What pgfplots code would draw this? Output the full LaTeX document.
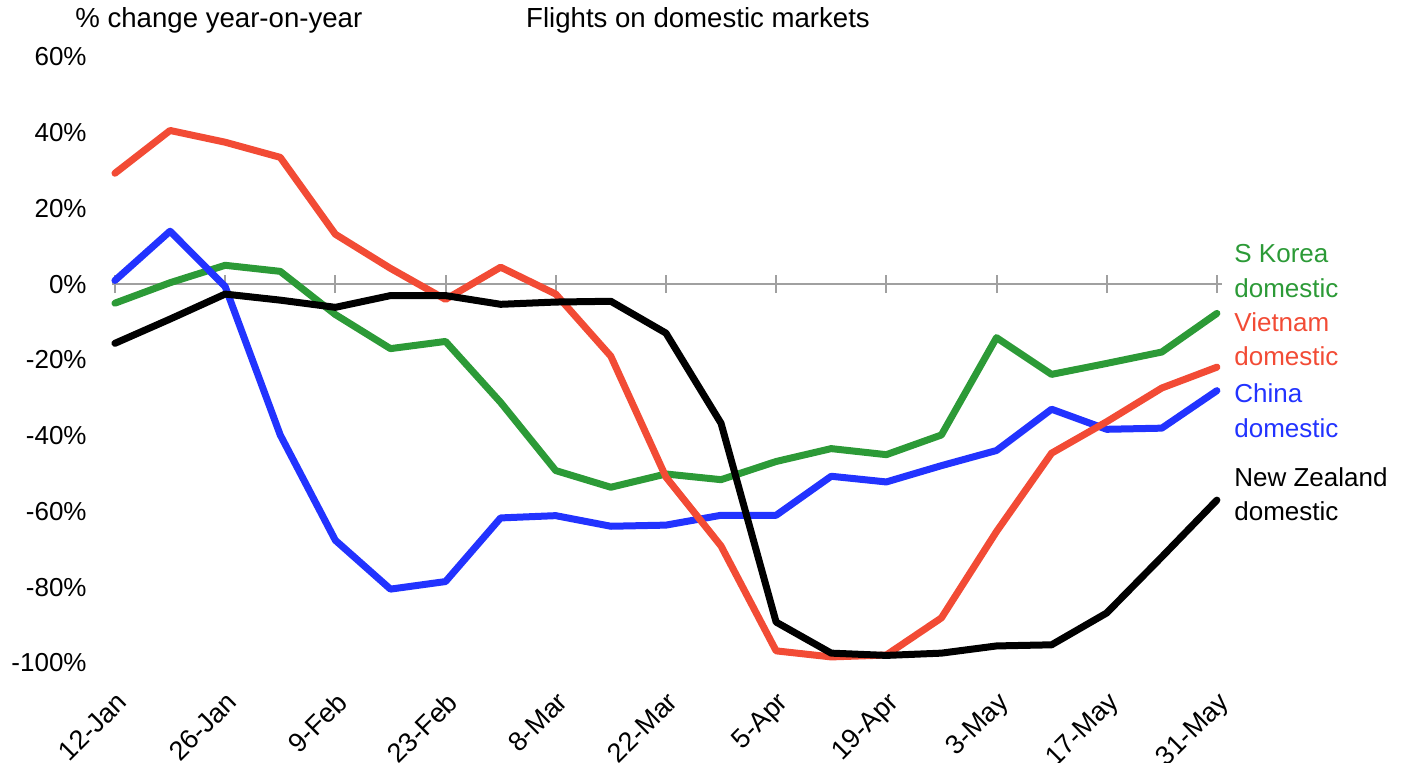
\documentclass[border=0pt]{standalone}
\usepackage{pgfplots}
\pgfplotsset{compat=1.18}
\usepackage{fontspec}
\setmainfont{Liberation Sans}
\definecolor{cgreen}{RGB}{44,154,55}
\definecolor{cred}{RGB}{242,75,53}
\definecolor{cblue}{RGB}{34,51,255}
\definecolor{cgray}{RGB}{160,160,160}
\newcommand{\lfont}{\fontsize{13}{15.6}\selectfont}
\newcommand{\tfont}{\fontsize{13.8}{16}\selectfont}
\begin{document}
\begin{tikzpicture}
\useasboundingbox (0,0) rectangle (704.5pt,381.5pt);
\begin{axis}[
  at={(56.1pt,50pt)}, anchor=south west,
  scale only axis, width=555.1pt, height=303pt,
  xmin=-0.05, xmax=20.1, ymin=-100, ymax=60,
  axis line style={draw=none}, tick style={draw=none},
  major tick length=0pt,
  xtick={0,2,...,20},
  xticklabels={12-Jan,26-Jan,9-Feb,23-Feb,8-Mar,22-Mar,5-Apr,19-Apr,3-May,17-May,31-May},
  ytick={-100,-80,...,60},
  yticklabels={-100\%,-80\%,-60\%,-40\%,-20\%,0\%,20\%,40\%,60\%},
  tick label style={font=\lfont},
  yticklabel style={anchor=east, inner sep=0pt, xshift=-12.6pt},
  xticklabel style={xshift=0pt, yshift=-13.5pt, rotate=45, anchor=north east, inner sep=0pt, font=\fontsize{13.5}{16}\selectfont},
  clip=false,
  every axis plot/.append style={line width=3.5pt, line join=round, line cap=round},
]
\draw[cgray, line width=1pt] (axis cs:-0.05,0) -- (axis cs:20.1,0);
\foreach \k in {0,2,4,6,8,10,12,14,16,18,20}{
  \edef\temp{\noexpand\draw[cgray, line width=1pt] ([yshift=-4.5pt]axis cs:\k,0) -- ([yshift=4.5pt]axis cs:\k,0);}
  \temp
}
\addplot[cgreen] coordinates {
(0,-5.0)(1,0.4)(2,5.0)(3,3.4)(4,-8.0)(5,-17.0)(6,-15.1)(7,-31.2)(8,-49.2)(9,-53.6)(10,-50.1)
(11,-51.6)(12,-46.8)(13,-43.4)(14,-45.0)(15,-39.8)(16,-14.1)(17,-23.8)(18,-20.9)(19,-17.9)(20,-7.7)};
\addplot[cblue] coordinates {
(0,1.0)(1,14.0)(2,-0.6)(3,-39.8)(4,-67.6)(5,-80.5)(6,-78.5)(7,-61.7)(8,-61.1)(9,-63.9)(10,-63.6)
(11,-61.0)(12,-61.0)(13,-50.7)(14,-52.2)(15,-47.9)(16,-43.9)(17,-33.0)(18,-38.3)(19,-38.0)(20,-28.1)};
\addplot[cred] coordinates {
(0,29.3)(1,40.6)(2,37.5)(3,33.5)(4,13.2)(5,4.2)(6,-4.0)(7,4.5)(8,-2.6)(9,-19.0)(10,-50.9)
(11,-69.1)(12,-96.8)(13,-98.4)(14,-97.9)(15,-88.1)(16,-65.3)(17,-44.6)(18,-36.3)(19,-27.4)(20,-21.9)};
\addplot[black] coordinates {
(0,-15.6)(1,-9.2)(2,-2.6)(3,-4.2)(4,-6.1)(5,-3.0)(6,-3.0)(7,-5.3)(8,-4.7)(9,-4.5)(10,-12.9)
(11,-36.7)(12,-89.2)(13,-97.4)(14,-98.0)(15,-97.4)(16,-95.5)(17,-95.2)(18,-86.8)(19,-72.0)(20,-57.0)};
\end{axis}
\node[anchor=base west, inner sep=0pt, font=\tfont] at (37.5pt,367.5pt) {\% change year-on-year};
\node[anchor=base, inner sep=0pt, font=\tfont] at (349pt,367.5pt) {Flights on domestic markets};
\node[anchor=base west, inner sep=0pt, font=\lfont, text=cgreen] at (617pt,250pt) {S Korea};
\node[anchor=base west, inner sep=0pt, font=\lfont, text=cgreen] at (617pt,232.5pt) {domestic};
\node[anchor=base west, inner sep=0pt, font=\lfont, text=cred] at (617pt,215.5pt) {Vietnam};
\node[anchor=base west, inner sep=0pt, font=\lfont, text=cred] at (617pt,198.5pt) {domestic};
\node[anchor=base west, inner sep=0pt, font=\lfont, text=cblue] at (617pt,180pt) {China};
\node[anchor=base west, inner sep=0pt, font=\lfont, text=cblue] at (617pt,162.5pt) {domestic};
\node[anchor=base west, inner sep=0pt, font=\lfont] at (617pt,138pt) {New Zealand};
\node[anchor=base west, inner sep=0pt, font=\lfont] at (617pt,121pt) {domestic};
\end{tikzpicture}
\end{document}
